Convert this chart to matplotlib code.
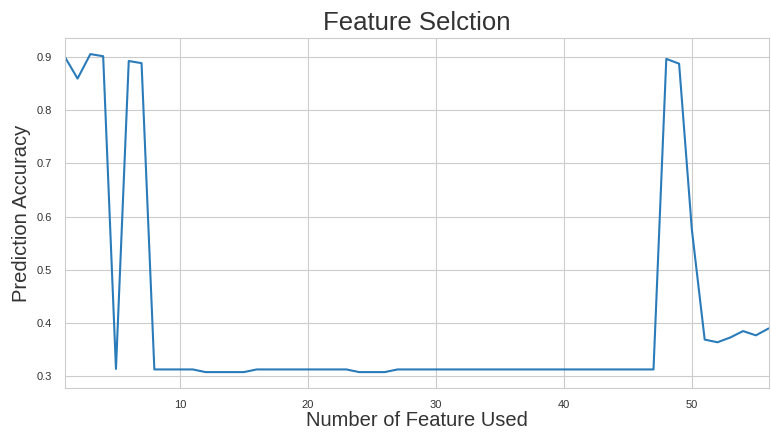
import matplotlib
matplotlib.use("Agg")
import matplotlib.pyplot as plt
import seaborn as sns

# numero de features usadas e a acuracia obtida
n_features = list(range(1, 57))
accuracy = [0.900, 0.859, 0.905, 0.901, 0.314, 0.892, 0.888, 0.313, 0.313, 0.313,
            0.313, 0.308, 0.308, 0.308, 0.308, 0.313, 0.313, 0.313, 0.313, 0.313,
            0.313, 0.313, 0.313, 0.308, 0.308, 0.308, 0.313, 0.313, 0.313, 0.313,
            0.313, 0.313, 0.313, 0.313, 0.313, 0.313, 0.313, 0.313, 0.313, 0.313,
            0.313, 0.313, 0.313, 0.313, 0.313, 0.313, 0.313, 0.896, 0.887, 0.575,
            0.369, 0.364, 0.373, 0.385, 0.377, 0.390]

sns.set_style("whitegrid")
plt.rcParams["font.family"] = ["Liberation Sans", "DejaVu Sans"]

fig = plt.figure(figsize=(7.71, 4.34), dpi=100)
ax = fig.add_axes([0.084, 0.106, 0.913, 0.806])
ax.plot(n_features, accuracy, color="#2a7bb9", linewidth=1.5)
ax.set_xlim(1, 56)
ax.set_title("Feature Selction", fontsize=18.5, color="#333333")
ax.set_xlabel("Number of Feature Used", fontsize=14.5, color="#333333", labelpad=1)
ax.set_ylabel("Prediction Accuracy", fontsize=14.5, color="#333333")
ax.tick_params(axis="y", labelsize=8, pad=6, labelcolor="#333333")
ax.tick_params(axis="x", labelsize=8, pad=5, labelcolor="#333333")
fig.savefig("out.png", dpi=100)
